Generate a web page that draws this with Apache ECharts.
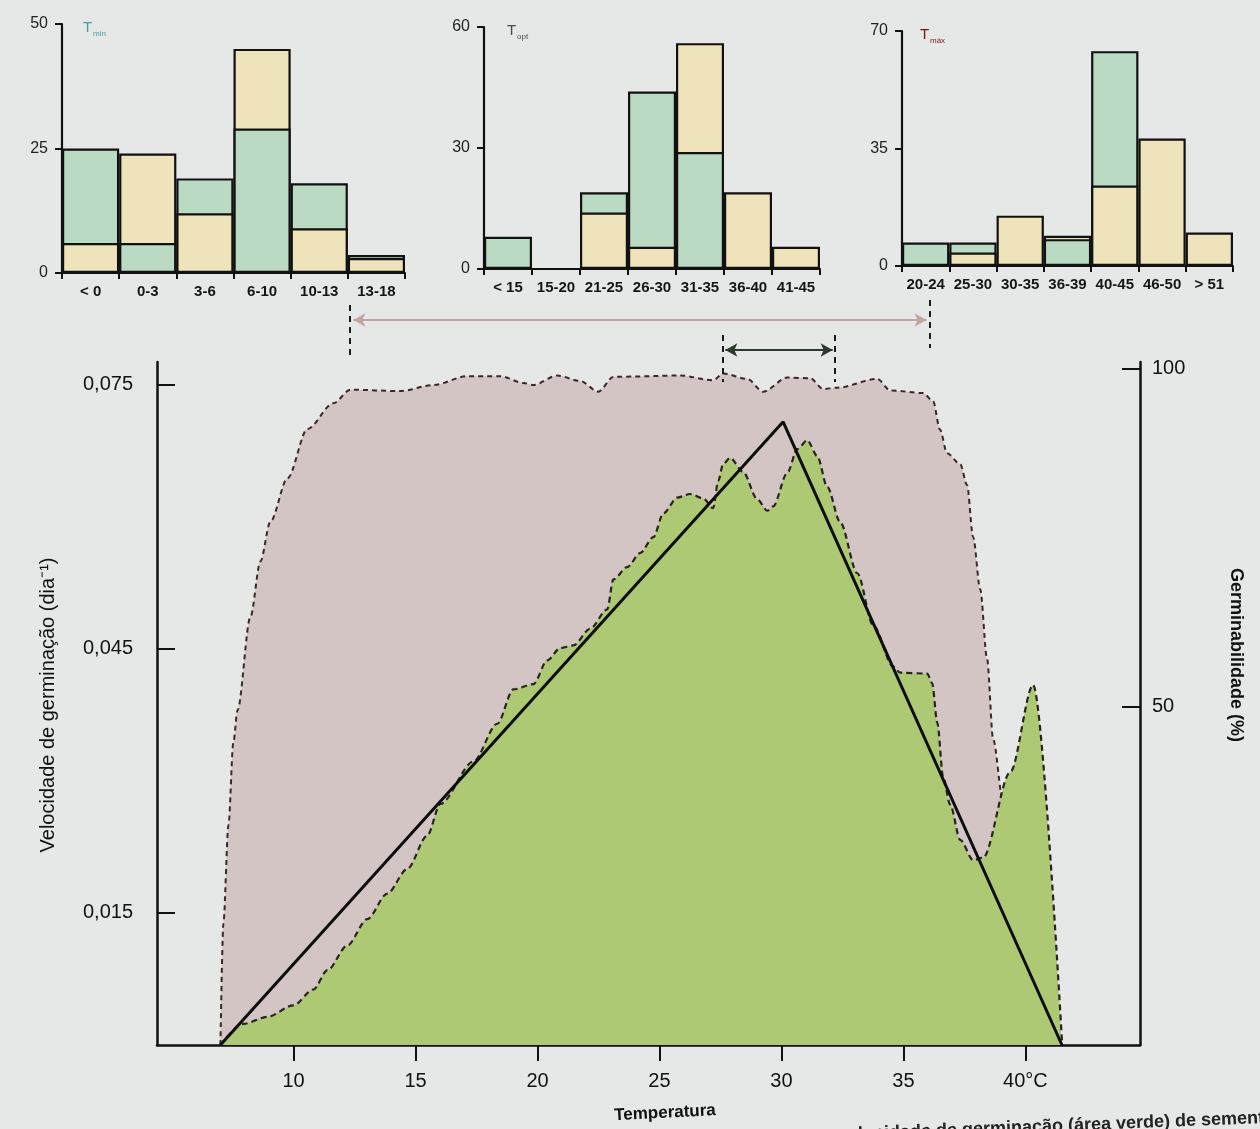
<!DOCTYPE html>
<html><head><meta charset="utf-8">
<script src="https://cdn.jsdelivr.net/npm/echarts@6/dist/echarts.min.js"></script>
<style>html,body{margin:0;padding:0;background:#e6e8e7;} #c{width:1260px;height:1129px;}</style>
</head><body><div id="c"></div>
<script>
// ---------- Histograms (number of species) ----------
const tminCats  = ['< 0', '0-3', '3-6', '6-10', '10-13', '13-18'];
const tminGreen = [25, 6, 19, 29, 18, 3.6];
const tminBeige = [6, 24, 12, 45, 9, 3];

const toptCats  = ['< 15', '15-20', '21-25', '26-30', '31-35', '36-40', '41-45'];
const toptGreen = [8, 0, 19, 44, 29, 0, 0];
const toptBeige = [0, 0, 14, 5.5, 56, 19, 5.5];

const tmaxCats  = ['20-24', '25-30', '30-35', '36-39', '40-45', '46-50', '> 51'];
const tmaxGreen = [7, 7, 0, 8, 64, 0, 0];
const tmaxBeige = [0, 4, 15, 9, 24, 38, 10];

// ---------- Main chart ----------
// Germination velocity (green area, left axis, dia^-1)
const velTemp = [7.00, 7.94, 8.93, 9.99, 10.81, 11.39, 12.20, 13.02, 13.84, 14.66,
  15.48, 16.02, 17.37, 18.35, 19.01, 19.83, 20.40, 20.93, 21.47, 22.16,
  22.86, 23.11, 23.68, 24.21, 24.75, 25.16, 25.73, 26.26, 26.80, 27.20,
  27.41, 27.61, 27.90, 28.43, 29.01, 29.42, 29.66, 30.24, 30.65, 31.06,
  31.47, 31.88, 32.41, 33.11, 33.76, 34.58, 34.87, 35.98, 36.18, 36.39,
  36.63, 36.92, 37.33, 37.86, 38.27, 39.38, 40.32, 41.51];
const velValue = [0, 0.0024, 0.0032, 0.0045, 0.0063, 0.0085, 0.0113, 0.0143, 0.0172, 0.0200,
  0.0238, 0.0274, 0.0322, 0.0365, 0.0404, 0.0410, 0.0437, 0.0451, 0.0454, 0.0473,
  0.0495, 0.0529, 0.0543, 0.0559, 0.0577, 0.0604, 0.0622, 0.0626, 0.0621, 0.0610,
  0.0641, 0.0660, 0.0667, 0.0651, 0.0620, 0.0607, 0.0612, 0.0650, 0.0677, 0.0687,
  0.0669, 0.0634, 0.0594, 0.0536, 0.0477, 0.0430, 0.0423, 0.0422, 0.0411, 0.0366,
  0.0304, 0.0273, 0.0233, 0.0210, 0.0213, 0.0310, 0.0409, 0];

// Germinability (pink area, right axis, %)
const germTemp = [7.00, 7.12, 7.33, 7.53, 7.70, 8.23, 8.64, 9.05, 9.75, 10.57,
  11.63, 12.33, 14.38, 15.73, 17.12, 18.48, 19.42, 19.83, 20.81, 21.75,
  22.49, 23.11, 25.85, 27.20, 27.61, 28.60, 29.25, 30.24, 31.18, 31.71,
  32.29, 33.93, 34.46, 35.81, 36.22, 36.50, 36.79, 37.33, 37.61, 37.86,
  38.15, 38.43, 38.68, 39.09, 39.58, 40.00];
const germValue = [0, 17.9, 32.5, 44.7, 49.5, 63.3, 71.5, 77.4, 83.8, 91.1,
  94.9, 96.9, 96.7, 97.6, 98.9, 98.9, 97.9, 97.6, 99.0, 98.2,
  96.6, 98.8, 99.0, 98.3, 99.3, 98.5, 96.6, 98.7, 98.6, 97.0,
  97.2, 98.5, 96.8, 96.4, 95.2, 91.0, 87.5, 85.9, 82.8, 75.1,
  67.4, 57.1, 45.2, 35.9, 16.9, 0];

// Linear model (black triangle): Tb, Topt, Tmax
const modelTemp  = [7.0, 30.07, 41.5];
const modelValue = [0, 0.0708, 0];

// Temperature ranges shown by arrows
const germinationRange = [12.3, 36.1];
const optimumRange     = [27.6, 32.2];

// Tick labels
const tempTicks = [10, 15, 20, 25, 30, 35, 40];
const velTicks  = [0.015, 0.045, 0.075];
const germTicks = [50, 100];

const FONT = "'Liberation Sans', Arial, sans-serif";
const GREEN_BAR = '#bbdac3', BEIGE_BAR = '#eee3ba';
const zip = (a, b) => a.map((v, i) => [v, b[i]]);

function layers(g, b) {
  return {
    greenBack:  g.map((v, i) => (v > 0 && v >= b[i]) ? v : '-'),
    beigeBack:  b.map((v, i) => (v > 0 && v > g[i]) ? v : '-'),
    greenFront: g.map((v, i) => (v > 0 && v < b[i]) ? v : '-'),
    beigeFront: b.map((v, i) => (v > 0 && v <= g[i]) ? v : '-')
  };
}

const hists = [
  {cats: tminCats, g: tminGreen, b: tminBeige, max: 50, grid: {left: 62, top: 24, width: 343, height: 249}},
  {cats: toptCats, g: toptGreen, b: toptBeige, max: 60, grid: {left: 484, top: 27, width: 336, height: 242}},
  {cats: tmaxCats, g: tmaxGreen, b: tmaxBeige, max: 70, grid: {left: 902, top: 31, width: 331, height: 235}}
];

const grids = [], xAxes = [], yAxes = [], series = [];
hists.forEach((h, i) => {
  grids.push(h.grid);
  xAxes.push({
    type: 'category', gridIndex: i, data: h.cats,
    axisLine: {lineStyle: {color: '#111', width: 2.2}},
    axisTick: {show: true, length: 6, lineStyle: {color: '#111', width: 2}},
    axisLabel: {interval: 0, fontSize: 15, fontWeight: 'bold', color: '#151515', margin: 11, fontFamily: FONT}
  });
  yAxes.push({
    type: 'value', gridIndex: i, min: 0, max: h.max, interval: h.max / 2,
    axisLine: {show: true, lineStyle: {color: '#111', width: 2.2}},
    axisTick: {show: true, length: 7, lineStyle: {color: '#111', width: 2}},
    axisLabel: {fontSize: 16, color: '#222', margin: 14, fontFamily: FONT},
    splitLine: {show: false}
  });
  const L = layers(h.g, h.b);
  const mk = (data, color) => ({
    type: 'bar', xAxisIndex: i, yAxisIndex: i, data: data,
    barWidth: '100%', barGap: '-100%', barCategoryGap: '0%',
    itemStyle: {color: color, borderColor: '#111', borderWidth: 2.2},
    silent: true
  });
  series.push(mk(L.greenBack, GREEN_BAR), mk(L.beigeBack, BEIGE_BAR),
              mk(L.greenFront, GREEN_BAR), mk(L.beigeFront, BEIGE_BAR));
});

// Main grid (index 3)
grids.push({left: 157, right: 120, top: 362, height: 683});
xAxes.push({
  type: 'value', gridIndex: 3, min: 4.4, max: 44.7,
  axisLine: {lineStyle: {color: '#111', width: 2.5}},
  axisTick: {show: true, customValues: tempTicks, length: 16, lineStyle: {color: '#111', width: 2}},
  axisLabel: {customValues: tempTicks, fontSize: 20, color: '#111', margin: 26, fontFamily: FONT,
    formatter: v => (v === 40 ? '40°C' : String(v))},
  splitLine: {show: false}
});
yAxes.push({
  type: 'value', gridIndex: 3, position: 'left', min: 0, max: 0.0776,
  axisLine: {show: true, lineStyle: {color: '#111', width: 2.5}},
  axisTick: {show: true, inside: true, customValues: velTicks, length: 18, lineStyle: {color: '#111', width: 2}},
  axisLabel: {customValues: velTicks, fontSize: 20, color: '#111', margin: 24, fontFamily: FONT,
    formatter: v => v.toFixed(3).replace('.', ',')},
  splitLine: {show: false}
});
yAxes.push({
  type: 'value', gridIndex: 3, position: 'right', min: 0, max: 101,
  axisLine: {show: true, lineStyle: {color: '#111', width: 2.5}},
  axisTick: {show: true, inside: true, customValues: germTicks, length: 18, lineStyle: {color: '#111', width: 2}},
  axisLabel: {customValues: germTicks, fontSize: 20, color: '#111', margin: 12, fontFamily: FONT},
  splitLine: {show: false}
});

// Arrow band grid (index 4)
grids.push({left: 157, right: 120, top: 295, height: 100});
xAxes.push({type: 'value', gridIndex: 4, min: 4.4, max: 44.7, show: false});
yAxes.push({type: 'value', gridIndex: 4, min: 0, max: 100, inverse: true, show: false});

series.push({
  name: 'Germinabilidade', type: 'line', xAxisIndex: 3, yAxisIndex: 4,
  data: zip(germTemp, germValue), smooth: 0.3, smoothMonotone: 'x', symbol: 'none',
  lineStyle: {color: '#3a2828', width: 2, type: [5, 4]},
  areaStyle: {color: '#d3c5c3', opacity: 1, origin: 'start'},
  silent: true, z: 2
});
series.push({
  name: 'Velocidade', type: 'line', xAxisIndex: 3, yAxisIndex: 3,
  data: zip(velTemp, velValue), smooth: 0.3, smoothMonotone: 'x', symbol: 'none',
  lineStyle: {color: '#2a2222', width: 2.2, type: [6, 4]},
  areaStyle: {color: '#adc973', opacity: 1, origin: 'start'},
  silent: true, z: 3
});
series.push({
  name: 'Modelo', type: 'line', xAxisIndex: 3, yAxisIndex: 3,
  data: zip(modelTemp, modelValue), symbol: 'none',
  lineStyle: {color: '#0d0d0d', width: 3},
  silent: true, z: 4
});

// Arrows and dashed guide lines
series.push({
  type: 'line', xAxisIndex: 4, yAxisIndex: 5, data: [[20, 50]], symbol: 'none',
  lineStyle: {opacity: 0}, silent: true, z: 5,
  markLine: {
    silent: true, animation: false, symbol: ['arrow', 'arrow'], symbolSize: [10, 12],
    label: {show: false},
    data: [
      [{coord: [germinationRange[0] + 0.15, 25], lineStyle: {color: '#c4a49e', width: 2, type: 'solid'}},
       {coord: [germinationRange[1] - 0.15, 25]}],
      [{coord: [optimumRange[0] + 0.1, 55], lineStyle: {color: '#2c3a2c', width: 2, type: 'solid'}},
       {coord: [optimumRange[1] - 0.1, 55]}]
    ]
  }
});
series.push({
  type: 'line', xAxisIndex: 4, yAxisIndex: 5, data: [[20, 50]], symbol: 'none',
  lineStyle: {opacity: 0}, silent: true, z: 5,
  markLine: {
    silent: true, animation: false, symbol: ['none', 'none'],
    label: {show: false},
    lineStyle: {color: '#1a1a1a', width: 2, type: [6, 5]},
    data: [
      [{coord: [germinationRange[0], 10]}, {coord: [germinationRange[0], 60]}],
      [{coord: [germinationRange[1], 5]},  {coord: [germinationRange[1], 53]}],
      [{coord: [optimumRange[0], 40]},     {coord: [optimumRange[0], 87]}],
      [{coord: [optimumRange[1], 40]},     {coord: [optimumRange[1], 87]}]
    ]
  }
});

const graphic = [
  {type: 'text', x: 83, y: 20, style: {text: 'T', fontSize: 15, fill: '#4f9aa0', fontFamily: FONT}},
  {type: 'text', x: 93, y: 30, style: {text: 'min', fontSize: 8, fill: '#4f9aa0', fontFamily: FONT}},
  {type: 'text', x: 507, y: 23, style: {text: 'T', fontSize: 15, fill: '#4a4a40', fontFamily: FONT}},
  {type: 'text', x: 517, y: 33, style: {text: 'opt', fontSize: 8, fill: '#4a4a40', fontFamily: FONT}},
  {type: 'text', x: 920, y: 27, style: {text: 'T', fontSize: 15, fill: '#7a1418', fontFamily: FONT}},
  {type: 'text', x: 930, y: 37, style: {text: 'máx', fontSize: 8, fill: '#7a1418', fontFamily: FONT}},
  {type: 'text', x: 48, y: 705, rotation: Math.PI / 2,
    style: {text: 'Velocidade de germinação (dia⁻¹)', fontSize: 20, fill: '#111', fontFamily: FONT,
      textAlign: 'center', textVerticalAlign: 'middle'}},
  {type: 'text', x: 1236, y: 655, rotation: -Math.PI / 2,
    style: {text: 'Germinabilidade (%)', fontSize: 18, fontWeight: 'bold', fill: '#111', fontFamily: FONT,
      textAlign: 'center', textVerticalAlign: 'middle'}},
  {type: 'text', x: 665, y: 1113, rotation: 0.05,
    style: {text: 'Temperatura', fontSize: 17, fontWeight: 'bold', fill: '#111', fontFamily: FONT,
      textAlign: 'center', textVerticalAlign: 'middle'}},
  {type: 'text', x: 1264, y: 1118, rotation: 0.04,
    style: {text: 'velocidade de germinação (área verde) de sement', fontSize: 18, fontWeight: 'bold',
      fill: '#222', fontFamily: FONT, textAlign: 'right', textVerticalAlign: 'middle'}}
];

const chart = echarts.init(document.getElementById('c'), null, {renderer: 'canvas'});
chart.setOption({
  backgroundColor: 'transparent',
  animation: false,
  textStyle: {fontFamily: FONT},
  grid: grids, xAxis: xAxes, yAxis: yAxes, series: series, graphic: graphic
});
</script></body></html>
